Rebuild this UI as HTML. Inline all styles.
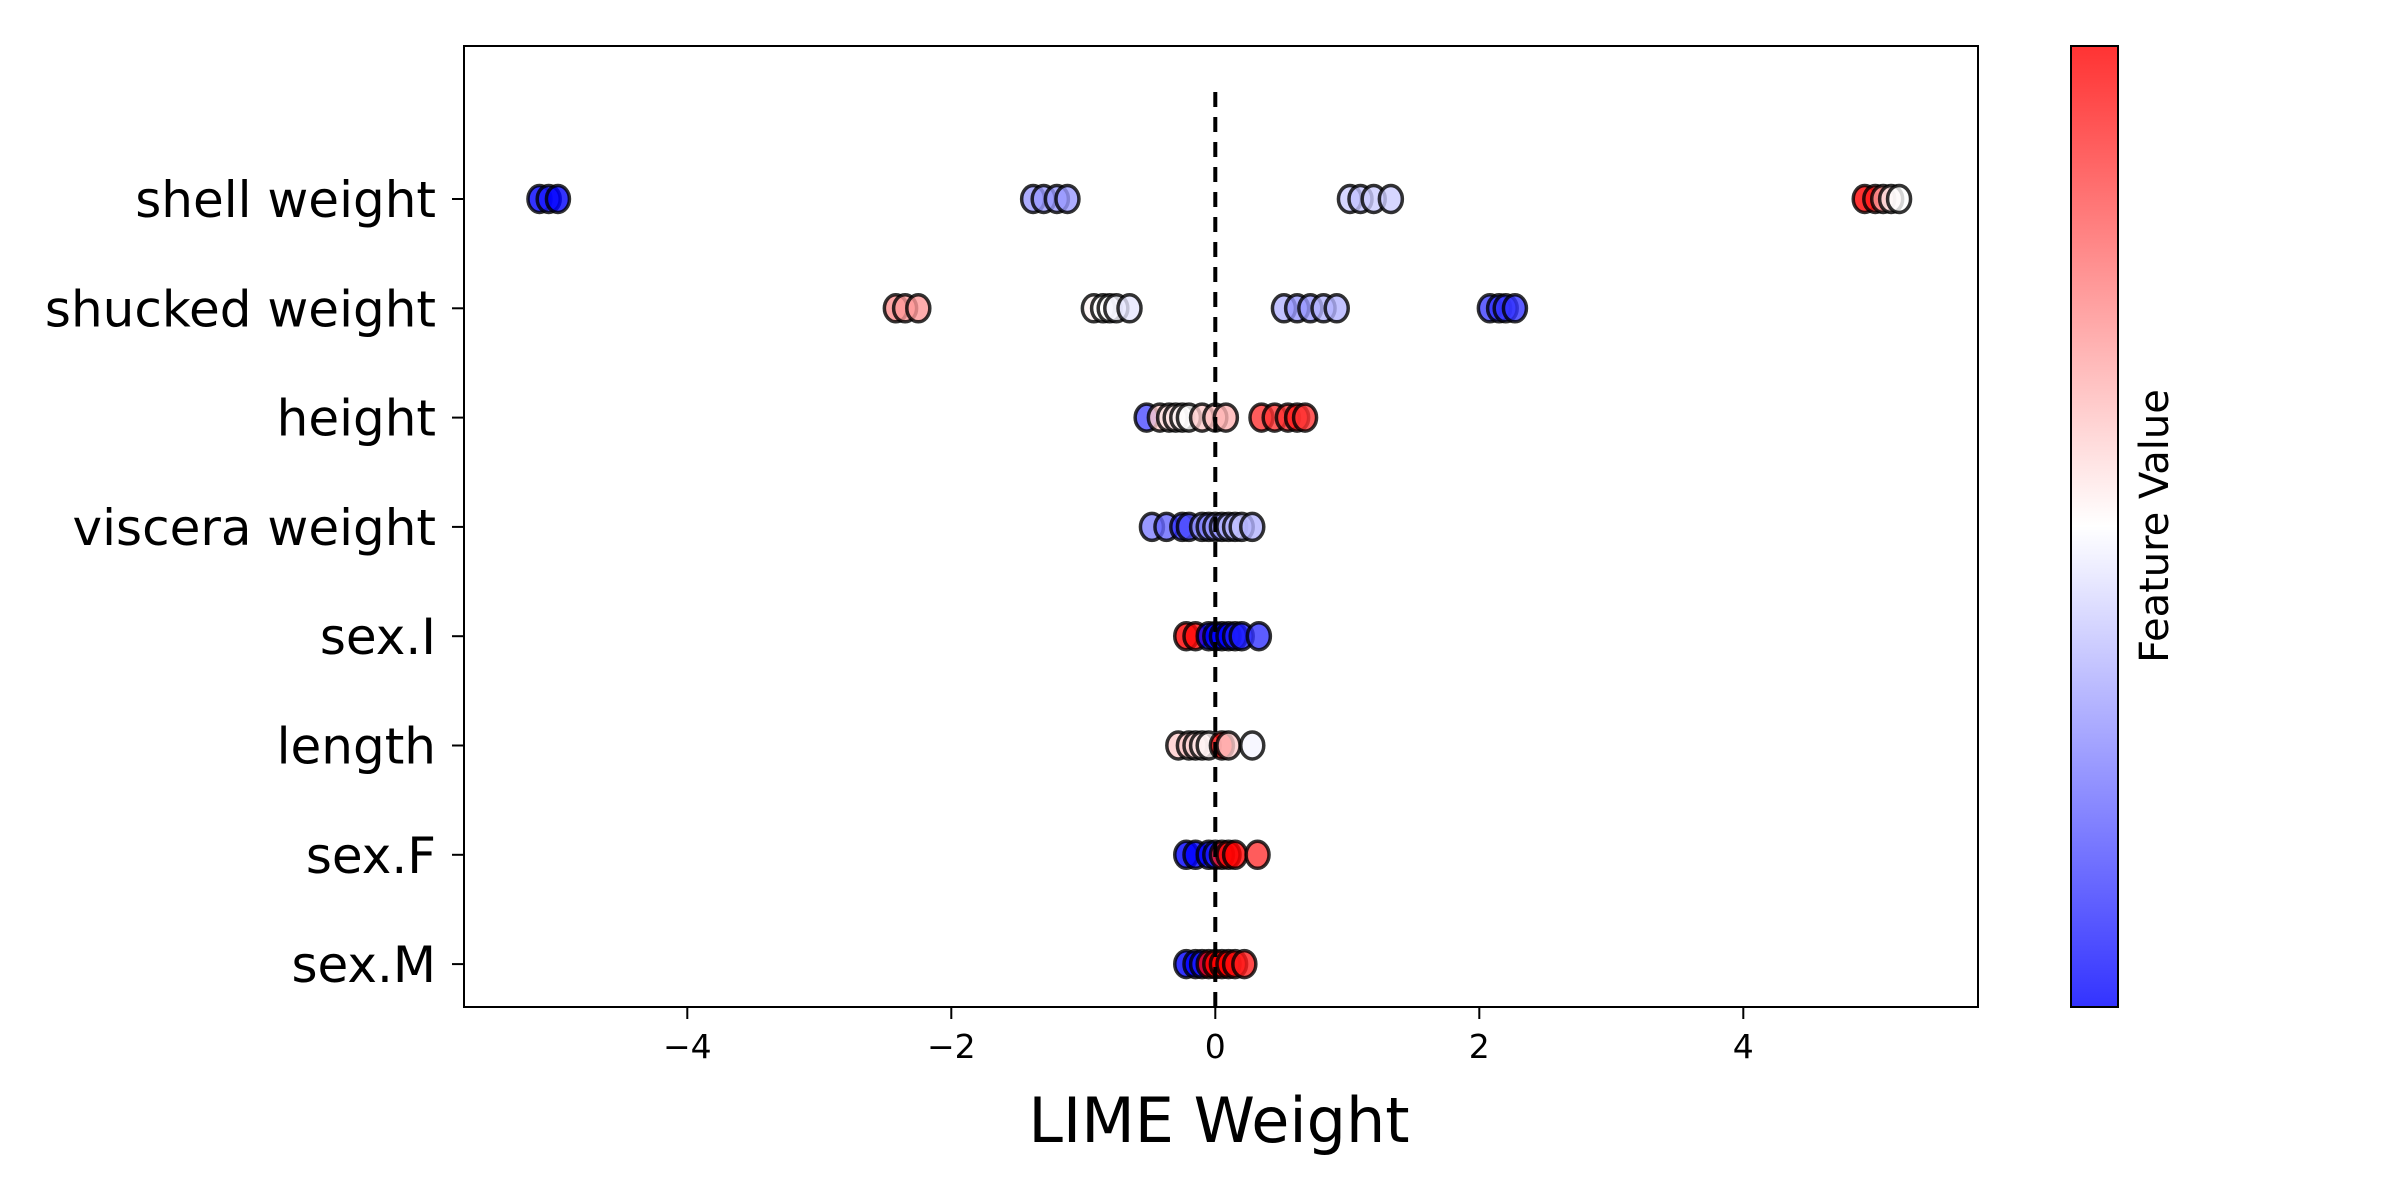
<!DOCTYPE html>
<html><head><meta charset="utf-8"><style>
html,body{margin:0;padding:0;background:#fff;}
svg{display:block;font-family:"DejaVu Sans","Liberation Sans",sans-serif;}
</style></head><body>
<svg id="chart" width="2400" height="1200" viewBox="0 0 2400 1200">
<defs>
<linearGradient id="cbgrad" x1="0" y1="1" x2="0" y2="0">
<stop offset="0" stop-color="rgb(51,51,255)"/>
<stop offset="0.5" stop-color="rgb(255,255,255)"/>
<stop offset="1" stop-color="rgb(255,51,51)"/>
</linearGradient>
</defs>
<rect x="0" y="0" width="2400" height="1200" fill="#fff"/>
<g id="points"></g>
<line id="zeroline" stroke="#000" stroke-width="4" stroke-dasharray="15,10"/>
<rect x="464" y="46" width="1514" height="961" fill="none" stroke="#000" stroke-width="2"/>
<g id="xticks"></g>
<g id="yticks"></g>
<text x="1219" y="1142" font-size="62" text-anchor="middle">LIME Weight</text>
<rect x="2071" y="46" width="47" height="961" fill="url(#cbgrad)" stroke="#000" stroke-width="2"/>
<text transform="translate(2168,526) rotate(-90)" font-size="40" text-anchor="middle">Feature Value</text>
</svg>
<script>
const features = ["shell weight","shucked weight","height","viscera weight","sex.I","length","sex.F","sex.M"];
const weights = [
 [-5.12,-5.05,-4.98,-1.38,-1.3,-1.2,-1.12,1.02,1.1,1.2,1.33,4.92,5.0,5.06,5.12,5.18],
 [-2.42,-2.35,-2.25,-0.92,-0.85,-0.8,-0.75,-0.65,0.52,0.62,0.72,0.82,0.92,2.08,2.15,2.2,2.27],
 [-0.52,-0.42,-0.35,-0.3,-0.25,-0.2,-0.1,0.0,0.08,0.35,0.45,0.55,0.62,0.68],
 [-0.48,-0.37,-0.25,-0.2,-0.1,-0.05,0.0,0.05,0.1,0.15,0.2,0.28],
 [-0.22,-0.15,-0.05,0.0,0.05,0.1,0.15,0.2,0.33],
 [-0.28,-0.2,-0.15,-0.1,-0.05,0.05,0.1,0.28],
 [-0.22,-0.15,-0.05,0.0,0.05,0.1,0.15,0.32],
 [-0.22,-0.15,-0.1,-0.05,0.0,0.05,0.1,0.15,0.22]
];
const featureValues = [
 [0.0,0.05,0.0,0.3,0.3,0.3,0.3,0.4,0.38,0.4,0.4,1.0,0.95,0.7,0.55,0.5],
 [0.72,0.7,0.7,0.52,0.5,0.5,0.48,0.45,0.35,0.3,0.3,0.35,0.35,0.12,0.1,0.1,0.1],
 [0.15,0.6,0.55,0.55,0.52,0.5,0.6,0.62,0.65,0.9,0.9,0.9,0.95,0.9],
 [0.25,0.2,0.1,0.15,0.3,0.25,0.3,0.3,0.35,0.35,0.38,0.35],
 [1.0,0.98,0.0,0.0,0.0,0.0,0.05,0.05,0.1],
 [0.6,0.6,0.58,0.55,0.52,0.98,0.6,0.48],
 [0.0,0.0,0.0,0.05,0.95,0.98,1.0,0.9],
 [0.0,0.0,0.05,1.0,1.0,1.0,1.0,0.98,0.95]
];
const xTicks = [-4,-2,0,2,4];
const xTickLabels = ["\u22124","\u22122","0","2","4"];

const NS="http://www.w3.org/2000/svg";
const X0=1215.3, XS=132, Y0=199, YS=109.3;
function xScale(v){return X0+v*XS;}
function yScale(i){return Y0+i*YS;}
function cmap(c){
  let r,g,b;
  if(c<0.5){r=Math.round(2*c*255);g=r;b=255;}
  else{r=255;g=Math.round((2-2*c)*255);b=g;}
  return "rgb("+r+","+g+","+b+")";
}
const pts=document.getElementById("points");
features.forEach((f,i)=>{
  weights[i].forEach((w,j)=>{
    const c=document.createElementNS(NS,"ellipse");
    c.setAttribute("cx",xScale(w));
    c.setAttribute("cy",yScale(i));
    c.setAttribute("rx",11.5);
    c.setAttribute("ry",13.5);
    c.setAttribute("fill",cmap(featureValues[i][j]));
    c.setAttribute("fill-opacity",0.8);
    c.setAttribute("stroke","#000");
    c.setAttribute("stroke-opacity",0.8);
    c.setAttribute("stroke-width",3.5);
    
    
    pts.appendChild(c);
  });
});
const zl=document.getElementById("zeroline");
zl.setAttribute("x1",xScale(0));zl.setAttribute("x2",xScale(0));
zl.setAttribute("y1",92);zl.setAttribute("y2",1007);
const xt=document.getElementById("xticks");
xTicks.forEach((t,k)=>{
  const l=document.createElementNS(NS,"line");
  l.setAttribute("x1",xScale(t));l.setAttribute("x2",xScale(t));
  l.setAttribute("y1",1007);l.setAttribute("y2",1019);
  l.setAttribute("stroke","#000");l.setAttribute("stroke-width",2);
  
  
  xt.appendChild(l);
  const tx=document.createElementNS(NS,"text");
  tx.setAttribute("x",xScale(t));tx.setAttribute("y",1058);
  tx.setAttribute("font-size",33);tx.setAttribute("text-anchor","middle");
  tx.textContent=xTickLabels[k];
  
  
  xt.appendChild(tx);
});
const yt=document.getElementById("yticks");
features.forEach((f,i)=>{
  const l=document.createElementNS(NS,"line");
  l.setAttribute("x1",452);l.setAttribute("x2",464);
  l.setAttribute("y1",yScale(i));l.setAttribute("y2",yScale(i));
  l.setAttribute("stroke","#000");l.setAttribute("stroke-width",2);
  
  
  yt.appendChild(l);
  const tx=document.createElementNS(NS,"text");
  tx.setAttribute("x",436);tx.setAttribute("y",yScale(i)+18);
  tx.setAttribute("font-size",50);tx.setAttribute("text-anchor","end");
  tx.textContent=f;
  
  
  yt.appendChild(tx);
});
</script>
</body></html>
